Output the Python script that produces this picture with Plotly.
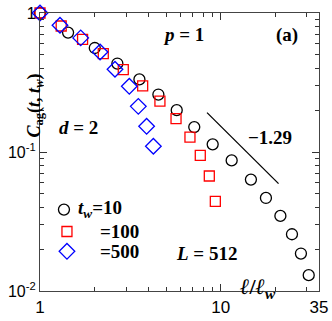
import numpy as np
import plotly.graph_objects as go

# black circles, t_w = 10
x_10 = [1.0, 1.43, 2.01, 2.68, 3.55, 4.52, 5.71, 7.14, 9.03, 11.5, 14.7, 17.8, 21.4, 24.8, 27.8, 30.7]
y_10 = [1.0, 0.723, 0.56, 0.433, 0.333, 0.259, 0.20, 0.151, 0.1135, 0.087, 0.0633, 0.0467, 0.0347, 0.0256, 0.0186, 0.013]

# red squares, t_w = 100
x_100 = [1.0, 1.31, 1.72, 2.24, 2.89, 3.70, 4.61, 5.66, 6.76, 7.71, 8.65, 9.34]
y_100 = [1.0, 0.806, 0.647, 0.51, 0.392, 0.299, 0.232, 0.174, 0.128, 0.0947, 0.0672, 0.0442]

# blue diamonds, t_w = 500
x_500 = [1.0, 1.29, 1.68, 2.15, 2.60, 3.12, 3.50, 3.89, 4.24]
y_500 = [1.0, 0.816, 0.662, 0.524, 0.394, 0.297, 0.213, 0.153, 0.11]

# guide line with slope -1.29
line_x = [8.4, 20.9]
line_y0 = 0.192
slope = -1.29

SERIF = "Liberation Serif"
SANS = "Liberation Sans"

# plot box in page pixels (body margin is removed in post_script)
X0, X1, Y0, Y1 = 40, 319, 13, 291


def paper(px, py):
    return (px - X0) / (X1 - X0), (Y1 - py) / (Y1 - Y0)


fig = go.Figure()
fig.add_trace(go.Scatter(
    x=x_10, y=y_10, mode="markers", cliponaxis=False,
    marker=dict(symbol="circle-open", size=11, color="black", line=dict(width=1.3)),
))
fig.add_trace(go.Scatter(
    x=x_100, y=y_100, mode="markers", cliponaxis=False,
    marker=dict(symbol="square-open", size=10, color="red", line=dict(width=1.3)),
))
fig.add_trace(go.Scatter(
    x=x_500, y=y_500, mode="markers", cliponaxis=False,
    marker=dict(symbol="diamond-open", size=12, color="blue", line=dict(width=1.3)),
))
ly = [line_y0, line_y0 * (line_x[1] / line_x[0]) ** slope]
fig.add_trace(go.Scatter(x=line_x, y=ly, mode="lines", line=dict(color="black", width=1.3)))

# legend drawn by hand
leg_x = [1.357, 1.41, 1.41]
leg_y = [0.0385, 0.0268, 0.0193]
for sym, col, sz, xx, yy in [("circle-open", "black", 11, leg_x[0], leg_y[0]),
                             ("square-open", "red", 10, leg_x[1], leg_y[1]),
                             ("diamond-open", "blue", 12, leg_x[2], leg_y[2])]:
    fig.add_trace(go.Scatter(x=[xx], y=[yy], mode="markers",
                             marker=dict(symbol=sym, size=sz, color=col, line=dict(width=1.3))))

tf = dict(family=SERIF, size=19, color="black")
ann = [
    dict(x=76, y=209, text="<b><i>t<sub>w</sub></i>=10</b>", xanchor="left"),
    dict(x=98, y=231, text="<b>=100</b>", xanchor="left"),
    dict(x=98, y=251, text="<b>=500</b>", xanchor="left"),
    dict(x=183, y=35, text="<b><i>p</i> = 1</b>", xanchor="center"),
    dict(x=287, y=35, text="<b>(a)</b>", xanchor="center"),
    dict(x=270, y=137, text="<b>\u22121.29</b>", xanchor="center"),
    dict(x=78, y=127, text="<b><i>d</i> = 2</b>", xanchor="center"),
    dict(x=206, y=254, text="<b><i>L</i> = 512</b>", xanchor="center"),
]
for a in ann:
    px, py = paper(a["x"], a["y"])
    fig.add_annotation(x=px, y=py, xref="paper", yref="paper",
                       text=a["text"], xanchor=a["xanchor"], yanchor="middle",
                       showarrow=False, font=tf)
px, py = paper(278, 304)
fig.add_annotation(x=px, y=py, xref="paper", yref="paper",
                   text="<b><i>\u2113</i>/<i>\u2113<sub>w</sub></i></b>",
                   showarrow=False, font=dict(family=SERIF, size=22, color="black"))
px, py = paper(21, 72)
fig.add_annotation(x=px, y=py, xref="paper", yref="paper",
                   text="<b><i>C</i><sub>ag</sub>(<i>t</i>, <i>t<sub>w</sub></i>)</b>",
                   textangle=-90, showarrow=False, font=dict(family=SERIF, size=18, color="black"))

minor_x = [2, 3, 4, 5, 6, 7, 8, 9, 20, 30]
minor_y = [v * 10.0 ** e for e in (-2, -1) for v in range(2, 10)]

fig.update_xaxes(
    type="log", range=[0, np.log10(35)], tickmode="array", tickvals=[1, 10, 35],
    ticktext=["1", "10", "35"], ticks="inside", ticklen=7, tickcolor="#333",
    showline=True, linecolor="#444", linewidth=1.3, mirror="ticks", showgrid=False, zeroline=False,
    tickfont=dict(family=SANS, size=17, color="black"), automargin=False, ticklabeloverflow="allow",
    minor=dict(tickmode="array", tickvals=minor_x, ticks="inside", ticklen=4, tickcolor="#333", showgrid=False),
)
fig.update_yaxes(
    type="log", range=[-2, 0], tickmode="array", tickvals=[0.01, 0.1, 1],
    ticktext=["10<sup>-2</sup>", "10<sup>-1</sup>", "1"], ticks="inside", ticklen=7, tickcolor="#333",
    showline=True, linecolor="#444", linewidth=1.3, mirror="ticks", showgrid=False, zeroline=False,
    tickfont=dict(family=SANS, size=16, color="black"), automargin=False, ticklabeloverflow="allow",
    minor=dict(tickmode="array", tickvals=minor_y, ticks="inside", ticklen=4, tickcolor="#333", showgrid=False),
)
fig.update_layout(
    width=332, height=321, showlegend=False,
    margin=dict(l=X0, r=332 - X1, t=Y0, b=321 - Y1, autoexpand=False),
    plot_bgcolor="white", paper_bgcolor="white",
)
fig.write_html("out.html", config={"displayModeBar": False},
               post_script="document.body.style.margin='0';")
